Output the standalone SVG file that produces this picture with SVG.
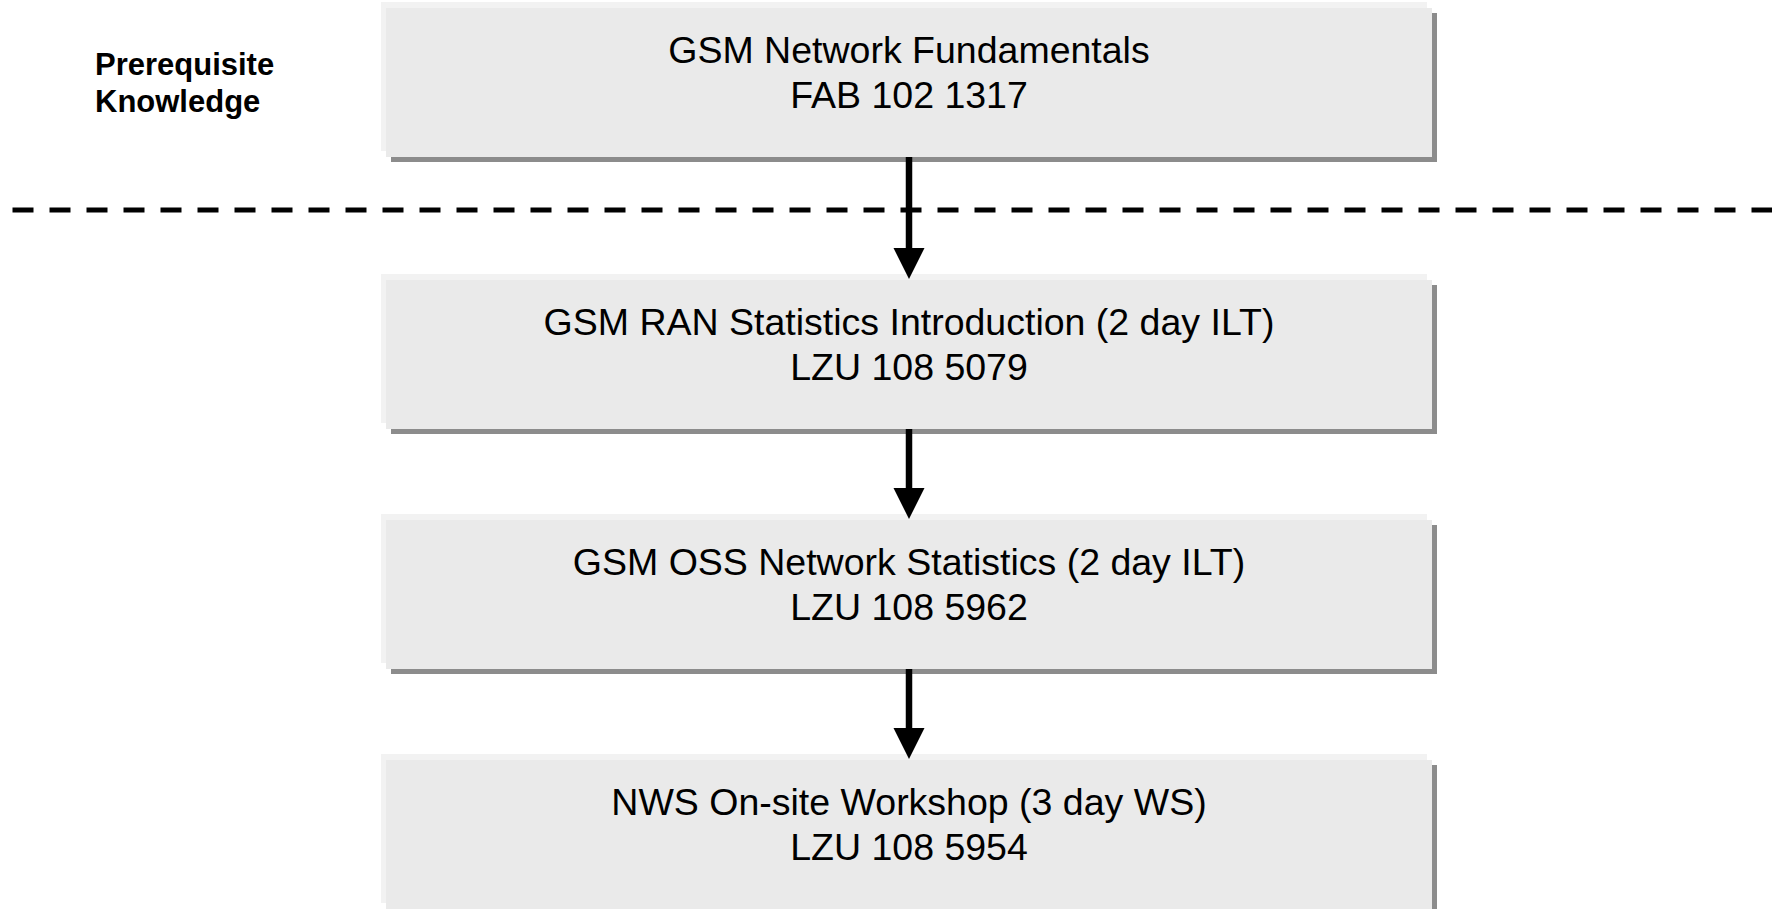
<svg xmlns="http://www.w3.org/2000/svg" width="1776" height="909" viewBox="0 0 1776 909">
<style>
.hl{fill:#f2f2f2}
.sh{fill:#8c8c8c}
.mn{fill:#eaeaea}
.t{font-family:"Liberation Sans",Arial,sans-serif;font-size:37.5px;fill:#000;text-anchor:middle}
.lbl{font-family:"Liberation Sans",Arial,sans-serif;font-size:31px;font-weight:bold;fill:#000}
.ln{stroke:#000;stroke-width:6.5;fill:none}
</style>
<defs>
<g id="box">
<rect class="hl" x="381" y="-6" width="1046" height="149"/>
<rect class="sh" x="391" y="5" width="1046" height="149"/>
<rect class="mn" x="386" y="0" width="1046" height="149"/>
</g>
</defs>
<rect width="1776" height="909" fill="#fff"/>
<g id="label">
<text class="lbl" x="95" y="75">Prerequisite</text>
<text class="lbl" x="95" y="112">Knowledge</text>
</g>
<line x1="12.5" y1="210" x2="1772" y2="210" stroke="#000" stroke-width="5" stroke-dasharray="21 16"/>
<g id="node1">
<use href="#box" y="8"/>
<text class="t" x="909" y="63">GSM Network Fundamentals</text>
<text class="t" x="909" y="108">FAB 102 1317</text>
</g>
<g id="node2">
<use href="#box" y="280"/>
<text class="t" x="909" y="335">GSM RAN Statistics Introduction (2 day ILT)</text>
<text class="t" x="909" y="380">LZU 108 5079</text>
</g>
<g id="node3">
<use href="#box" y="520"/>
<text class="t" x="909" y="575">GSM OSS Network Statistics (2 day ILT)</text>
<text class="t" x="909" y="620">LZU 108 5962</text>
</g>
<g id="node4">
<use href="#box" y="760"/>
<text class="t" x="909" y="815">NWS On-site Workshop (3 day WS)</text>
<text class="t" x="909" y="860">LZU 108 5954</text>
</g>
<g id="connectors">
<line class="ln" x1="909" y1="157" x2="909" y2="250"/>
<polygon points="893.5,248 924.5,248 909,279"/>
<line class="ln" x1="909" y1="429" x2="909" y2="490"/>
<polygon points="893.5,488 924.5,488 909,519"/>
<line class="ln" x1="909" y1="669" x2="909" y2="730"/>
<polygon points="893.5,728 924.5,728 909,759"/>
</g>
</svg>
